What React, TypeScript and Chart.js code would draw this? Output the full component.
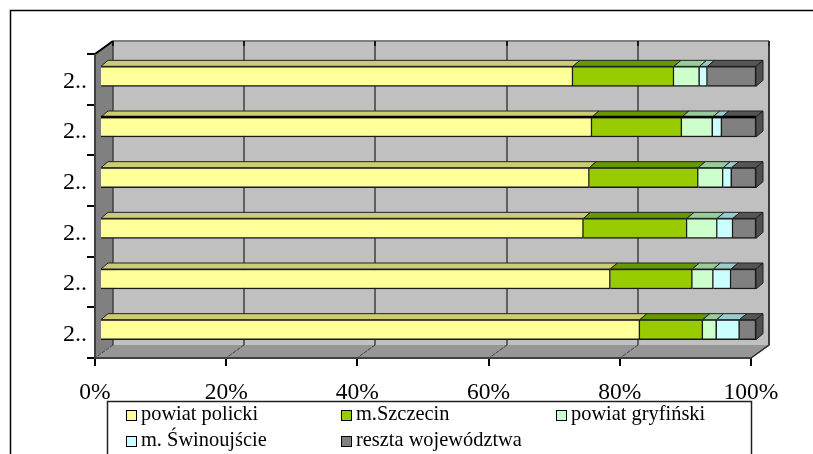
import React, { useEffect, useRef } from "react";
import { Chart, registerables } from "chart.js";

Chart.register(...registerables);

const categories = ["2..", "2..", "2..", "2..", "2..", "2.."];
const powiatPolicki = [72.1, 75.0, 74.6, 73.7, 77.8, 82.3];
const mSzczecin = [15.4, 13.7, 16.6, 15.8, 12.5, 9.6];
const powiatGryfinski = [3.9, 4.7, 3.8, 4.6, 3.2, 2.1];
const mSwinoujscie = [1.2, 1.4, 1.3, 2.4, 2.7, 3.5];
const resztaWojewodztwa = [7.4, 5.2, 3.7, 3.5, 3.8, 2.5];
const seriesNames = ["powiat policki", "m.Szczecin", "powiat gryfiński", "m. Świnoujście", "reszta województwa"];
const seriesColors = ["#FFFF99", "#99CC00", "#CCFFCC", "#CCFFFF", "#808080"];
const topColors = ["#CCCC77", "#669900", "#99CC99", "#99CCCC", "#555555"];
const sideColor = "#505050";

const FONT = '"Liberation Serif", "Times New Roman", serif';
const DEPTH_X = 18;
const DEPTH_Y = 13;
const BAR_SHIFT_X = 5;
const BAR_SHIFT_Y = -3;
const BAR_DX = 7;
const BAR_DY = 6;

const wallsPlugin = {
  id: "walls",
  beforeDatasetsDraw(chart: any) {
    const { ctx, chartArea: a, scales } = chart;
    const { left: l, right: r, top: t, bottom: b } = a;
    const dx = DEPTH_X;
    const dy = DEPTH_Y;
    ctx.save();
    ctx.fillStyle = "#C0C0C0";
    ctx.fillRect(l + dx, t - dy, r - l, b - t);
    ctx.fillStyle = "#808080";
    ctx.beginPath();
    ctx.moveTo(l, t);
    ctx.lineTo(l + dx, t - dy);
    ctx.lineTo(l + dx, b - dy);
    ctx.lineTo(l, b);
    ctx.closePath();
    ctx.fill();
    ctx.fillStyle = "#969696";
    ctx.beginPath();
    ctx.moveTo(l, b);
    ctx.lineTo(l + dx, b - dy);
    ctx.lineTo(r + dx, b - dy);
    ctx.lineTo(r, b);
    ctx.closePath();
    ctx.fill();
    ctx.strokeStyle = "#808080";
    ctx.lineWidth = 2;
    ctx.beginPath();
    ctx.moveTo(l + dx, t - dy);
    ctx.lineTo(r + dx, t - dy);
    ctx.stroke();
    for (const tick of scales.x.ticks) {
      const x = Math.round(scales.x.getPixelForValue(tick.value));
      ctx.strokeStyle = "#404040";
      ctx.lineWidth = 1.5;
      ctx.beginPath();
      ctx.moveTo(x + dx, t - dy);
      ctx.lineTo(x + dx, b - dy);
      ctx.stroke();
      ctx.setLineDash([4, 1]);
      ctx.lineWidth = 1;
      ctx.beginPath();
      ctx.moveTo(x + dx, b - dy);
      ctx.lineTo(x, b);
      ctx.stroke();
      ctx.setLineDash([]);
      ctx.strokeStyle = "#000000";
      ctx.lineWidth = 1.5;
      ctx.beginPath();
      ctx.moveTo(x + dx, t - dy);
      ctx.lineTo(x + dx, t - dy + 5);
      ctx.stroke();
    }
    ctx.strokeStyle = "#000000";
    ctx.lineWidth = 2;
    ctx.beginPath();
    ctx.moveTo(l, t);
    ctx.lineTo(l + dx, t - dy);
    ctx.stroke();
    ctx.strokeStyle = "#404040";
    ctx.lineWidth = 2;
    ctx.beginPath();
    ctx.moveTo(l, t);
    ctx.lineTo(l, b);
    ctx.lineTo(r, b);
    ctx.stroke();
    ctx.restore();
    ctx.save();
    ctx.translate(BAR_SHIFT_X, BAR_SHIFT_Y);
  },
  afterDatasetsDraw(chart: any) {
    const { ctx } = chart;
    chart.data.datasets.forEach((ds: any, i: number) => {
      const meta = chart.getDatasetMeta(i);
      meta.data.forEach((bar: any, row: number) => {
        const p = bar.getProps(["x", "y", "base", "height"], true);
        const top = p.y - p.height / 2;
        const bottom = p.y + p.height / 2;
        ctx.lineWidth = 1;
        ctx.strokeStyle = "#202020";
        ctx.fillStyle = topColors[i];
        ctx.beginPath();
        ctx.moveTo(p.base, top);
        ctx.lineTo(p.base + BAR_DX, top - BAR_DY);
        ctx.lineTo(p.x + BAR_DX, top - BAR_DY);
        ctx.lineTo(p.x, top);
        ctx.closePath();
        ctx.fill();
        ctx.stroke();
        if (row === 1) {
          ctx.lineWidth = 2.5;
          ctx.strokeStyle = "#000000";
          ctx.beginPath();
          ctx.moveTo(p.base, top);
          ctx.lineTo(p.x, top);
          ctx.stroke();
          ctx.lineWidth = 1;
          ctx.strokeStyle = "#202020";
        }
        if (i === chart.data.datasets.length - 1) {
          ctx.fillStyle = sideColor;
          ctx.beginPath();
          ctx.moveTo(p.x, top);
          ctx.lineTo(p.x + BAR_DX, top - BAR_DY);
          ctx.lineTo(p.x + BAR_DX, bottom - BAR_DY);
          ctx.lineTo(p.x, bottom);
          ctx.closePath();
          ctx.fill();
          ctx.stroke();
        }
      });
    });
    ctx.restore();
  },
  afterDraw(chart: any) {
    const { ctx, chartArea: a } = chart;
    const dx = DEPTH_X;
    const dy = DEPTH_Y;
    ctx.save();
    ctx.strokeStyle = "#303030";
    ctx.lineWidth = 1.5;
    ctx.beginPath();
    ctx.moveTo(a.right + dx, a.top - dy);
    ctx.lineTo(a.right + dx, a.bottom - dy);
    ctx.lineTo(a.right, a.bottom);
    ctx.stroke();
    ctx.strokeStyle = "#000000";
    ctx.lineWidth = 1.5;
    ctx.beginPath();
    ctx.moveTo(10.5, 454);
    ctx.lineTo(10.5, 10.5);
    ctx.lineTo(813, 10.5);
    ctx.stroke();
    ctx.fillStyle = "#FFFFFF";
    ctx.fillRect(107, 401, 644, 53);
    ctx.strokeStyle = "#202020";
    ctx.lineWidth = 1.5;
    ctx.beginPath();
    ctx.moveTo(107.5, 454);
    ctx.lineTo(107.5, 401.5);
    ctx.lineTo(751.5, 401.5);
    ctx.lineTo(751.5, 454);
    ctx.stroke();
    const cols = [126, 341, 556];
    const rows = [415, 441];
    ctx.font = `20.4px ${FONT}`;
    ctx.textBaseline = "middle";
    ctx.textAlign = "left";
    seriesNames.forEach((name, i) => {
      const x = cols[i % 3];
      const y = rows[Math.floor(i / 3)];
      ctx.fillStyle = seriesColors[i];
      ctx.fillRect(x, y - 5, 10, 10);
      ctx.strokeStyle = "#000000";
      ctx.lineWidth = 1;
      ctx.strokeRect(x + 0.5, y - 4.5, 10, 10);
      ctx.fillStyle = "#000000";
      ctx.fillText(name, x + 15, y);
    });
    ctx.restore();
  },
};

export default function App() {
  const ref = useRef<HTMLCanvasElement>(null);
  useEffect(() => {
    const values = [powiatPolicki, mSzczecin, powiatGryfinski, mSwinoujscie, resztaWojewodztwa];
    const chart = new Chart(ref.current!, {
      type: "bar",
      data: {
        labels: categories,
        datasets: values.map((data, i) => ({
          label: seriesNames[i],
          data,
          backgroundColor: seriesColors[i],
          borderColor: "#1a1a1a",
          borderWidth: 1.5,
          barThickness: 20,
          stack: "s",
        })),
      },
      plugins: [wallsPlugin],
      options: {
        indexAxis: "y",
        animation: false,
        responsive: false,
        layout: { padding: { top: 54, right: 62, left: 0, bottom: 0 } },
        plugins: { legend: { display: false }, tooltip: { enabled: false }, title: { display: false } },
        scales: {
          x: {
            stacked: true,
            min: 0,
            max: 100,
            border: { display: false },
            grid: { drawOnChartArea: false, color: "#000000", lineWidth: 2, tickLength: 8, drawTicks: true },
            ticks: {
              stepSize: 20,
              maxRotation: 0,
              padding: 13,
              color: "#000000",
              font: { family: FONT, size: 23.5 },
              callback: (v: any) => `${v}%`,
            },
            afterFit: (s: any) => { s.height = 96; },
          },
          y: {
            stacked: true,
            border: { display: false },
            grid: { drawOnChartArea: false, color: "#000000", lineWidth: 2, tickLength: 8, offset: true },
            ticks: { padding: 0, labelOffset: 2, color: "#000000", font: { family: FONT, size: 24 }, autoSkip: false },
            afterFit: (s: any) => { s.width = 95; },
          },
        },
      } as any,
    });
    return () => chart.destroy();
  }, []);
  return (
    <div style={{ position: "absolute", left: 0, top: 0, width: 813, height: 454, background: "#fff" }}>
      <canvas ref={ref} width={813} height={454} style={{ display: "block" }} />
    </div>
  );
}
